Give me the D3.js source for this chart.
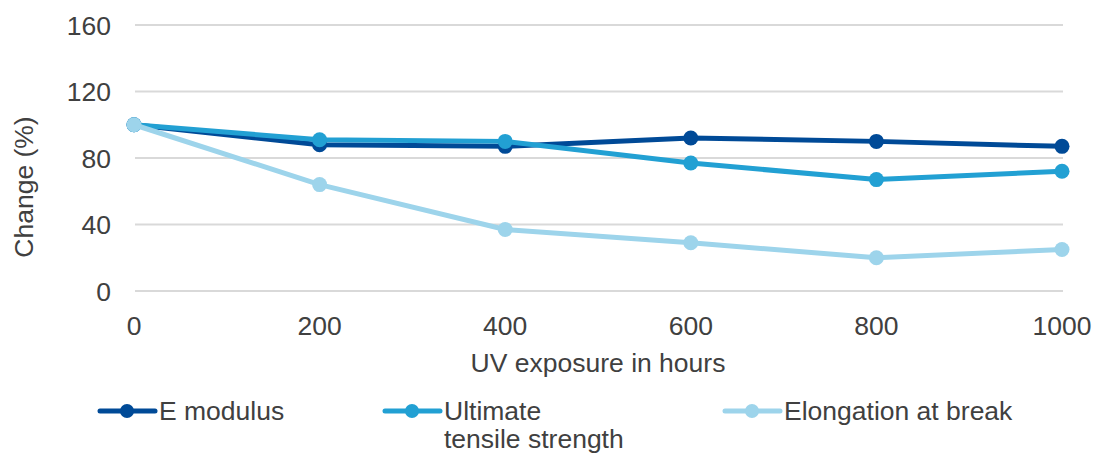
<!DOCTYPE html>
<html>
<head>
<meta charset="utf-8">
<script src="https://cdn.jsdelivr.net/npm/d3@7"></script>
<style>
    body { margin: 0; background: #fff; }
    svg { display: block; font-family: "Liberation Sans", Arial, sans-serif; }
    .grid line { stroke: #d9d9d9; stroke-width: 2; }
    .tick-label, .axis-title, .legend text { fill: #404040; font-size: 26.5px; }
</style>
</head>
<body>
<div id="chart"></div>
<script>
// === DATA ===
const hours = [0, 200, 400, 600, 800, 1000]
const yTicks = [0, 40, 80, 120, 160]
const eModulus = [100, 88, 87, 92, 90, 87]
const tensile = [100, 91, 90, 77, 67, 72]
const elongation = [100, 64, 37, 29, 20, 25]

const series = [
    { name: ['E modulus'], values: eModulus, color: '#004a97', lx: 100 },
    { name: ['Ultimate', 'tensile strength'], values: tensile, color: '#22a0d3', lx: 385 },
    { name: ['Elongation at break'], values: elongation, color: '#9dd4eb', lx: 725 }
]

// === LAYOUT ===
const W = 1095, H = 454
const m = { left: 134, right: 33, top: 25, bottom: 163 }

const svg = d3.select('#chart').append('svg')
    .attr('width', W)
    .attr('height', H)

const x = d3.scaleLinear().domain([0, 1000]).range([m.left, W - m.right])
const y = d3.scaleLinear().domain([0, 160]).range([H - m.bottom, m.top])

// gridlines
svg.append('g').attr('class', 'grid')
    .selectAll('line')
    .data(yTicks)
    .join('line')
    .attr('x1', x(0) + 1)
    .attr('x2', x(1000) + 1)
    .attr('y1', d => y(d))
    .attr('y2', d => y(d))

// y tick labels
svg.append('g')
    .selectAll('text')
    .data(yTicks)
    .join('text')
    .attr('class', 'tick-label')
    .attr('x', 111)
    .attr('y', d => y(d))
    .attr('dy', '0.36em')
    .attr('text-anchor', 'end')
    .text(d => d)

// x tick labels
svg.append('g')
    .selectAll('text')
    .data(hours)
    .join('text')
    .attr('class', 'tick-label')
    .attr('x', d => x(d))
    .attr('y', 335)
    .attr('text-anchor', 'middle')
    .text(d => d)

// axis titles
svg.append('text')
    .attr('class', 'axis-title')
    .attr('x', x(500))
    .attr('y', 372)
    .attr('text-anchor', 'middle')
    .text('UV exposure in hours')

svg.append('text')
    .attr('class', 'axis-title')
    .attr('transform', 'translate(33,187) rotate(-90)')
    .attr('text-anchor', 'middle')
    .text('Change (%)')

// === LINES ===
const line = d3.line()
    .x((d, i) => x(hours[i]))
    .y(d => y(d))

series.forEach(s => {
    const g = svg.append('g')
    g.append('path')
        .attr('d', line(s.values))
        .attr('fill', 'none')
        .attr('stroke', s.color)
        .attr('stroke-width', 5)
        .attr('stroke-linejoin', 'round')
    g.selectAll('circle')
        .data(s.values)
        .join('circle')
        .attr('cx', (d, i) => x(hours[i]))
        .attr('cy', d => y(d))
        .attr('r', 7.5)
        .attr('fill', s.color)
})

// === LEGEND ===
const legY = 411
const legend = svg.append('g').attr('class', 'legend')
series.forEach(s => {
    const g = legend.append('g')
    g.append('line')
        .attr('x1', s.lx)
        .attr('x2', s.lx + 55)
        .attr('y1', legY)
        .attr('y2', legY)
        .attr('stroke', s.color)
        .attr('stroke-width', 5)
        .attr('stroke-linecap', 'round')
    g.append('circle')
        .attr('cx', s.lx + 27)
        .attr('cy', legY)
        .attr('r', 7)
        .attr('fill', s.color)
    const t = g.append('text')
        .attr('x', s.lx + 59)
        .attr('y', legY + 9)
    s.name.forEach((n, i) => {
        t.append('tspan')
            .attr('x', s.lx + 59)
            .attr('dy', i ? 28 : 0)
            .text(n)
    })
})
</script>
</body>
</html>
